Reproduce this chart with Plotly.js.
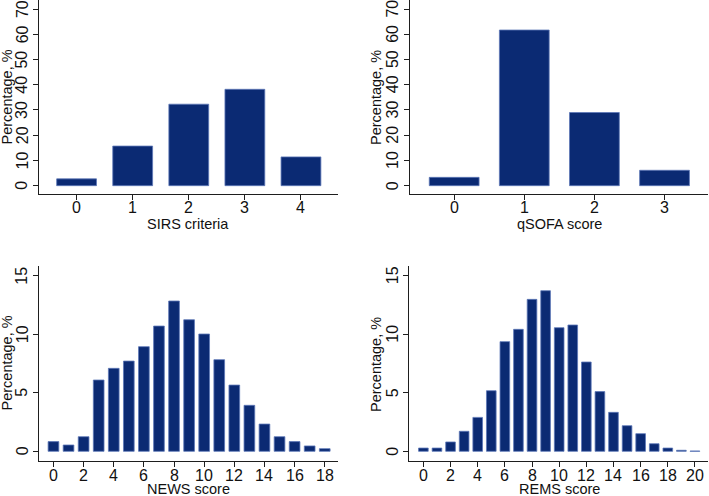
<!DOCTYPE html>
<html>
<head>
<meta charset="utf-8">
<script src="https://cdn.plot.ly/plotly-3.0.1.min.js"></script>
<style>html,body{margin:0;padding:0;background:#fff;}#chart{width:709px;height:496px;}</style>
</head>
<body>
<div id="chart"></div>
<script>
// Data
const sirsCategories = [0, 1, 2, 3, 4];
const sirsPercent = [2.7, 15.7, 32.3, 38.2, 11.4];

const qsofaCategories = [0, 1, 2, 3];
const qsofaPercent = [3.3, 61.7, 29.0, 6.1];

const newsCategories = [0,1,2,3,4,5,6,7,8,9,10,11,12,13,14,15,16,17,18];
const newsPercent = [0.83,0.54,1.25,6.09,7.09,7.71,8.94,10.70,12.84,11.24,10.02,7.83,5.66,3.93,2.33,1.25,0.83,0.46,0.23];

const remsCategories = [0,1,2,3,4,5,6,7,8,9,10,11,12,13,14,15,16,17,18,19,20];
const remsPercent = [0.28,0.28,0.80,1.71,2.90,5.18,9.37,10.42,12.98,13.72,10.56,10.79,7.63,5.10,3.33,2.19,1.51,0.65,0.28,0.09,0.03];

// Tick labels
const sirsTicks = [0, 1, 2, 3, 4];
const qsofaTicks = [0, 1, 2, 3];
const newsTicks = [0, 2, 4, 6, 8, 10, 12, 14, 16, 18];
const remsTicks = [0, 2, 4, 6, 8, 10, 12, 14, 16, 18, 20];
const topYTicks = [0, 10, 20, 30, 40, 50, 60, 70];
const bottomYTicks = [0, 5, 10, 15];

const xTitles = ["SIRS criteria", "qSOFA score", "NEWS score", "REMS score"];
const yTitle = "Percentage, %";

const W = 709, H = 496;
const barFill = "#0b2a73";
const barEdge = "#5d77b8";
const axisCol = "#1e1e1e";
const textCol = "#111";
const font = "Liberation Sans, Arial, sans-serif";

function bar(x, y, xa, ya) {
  return {type: "bar", x: x, y: y, xaxis: xa, yaxis: ya, width: 0.71,
    marker: {color: barFill, line: {color: barEdge, width: 0.8}}, hoverinfo: "skip"};
}

const data = [
  bar(sirsCategories, sirsPercent, "x", "y"),
  bar(qsofaCategories, qsofaPercent, "x2", "y2"),
  bar(newsCategories, newsPercent, "x3", "y3"),
  bar(remsCategories, remsPercent, "x4", "y4")
];

function xa(domainPx, range, ticks, anchor) {
  return {domain: [domainPx[0]/W, domainPx[1]/W], range: range, tickmode: "array", tickvals: ticks,
    anchor: anchor, showline: true, linecolor: axisCol, linewidth: 1, ticks: "outside", ticklen: 5, tickcolor: axisCol,
    showgrid: false, zeroline: false, showticklabels: false, automargin: false, fixedrange: true};
}
function ya(domainPx, range, ticks, anchor) {
  return {domain: [1 - domainPx[1]/H, 1 - domainPx[0]/H], range: range, tickmode: "array", tickvals: ticks,
    anchor: anchor, showline: true, linecolor: axisCol, linewidth: 1, ticks: "outside", ticklen: 5, tickcolor: axisCol,
    showgrid: false, zeroline: false, showticklabels: false, automargin: false, fixedrange: true};
}

const tickFont = {family: font, size: 16, color: textCol};
const titleFont = {family: font, size: 14.5, color: textCol};

const annotations = [];
function xTickLabels(ticks, xref, cy) {
  ticks.forEach(function (v) {
    annotations.push({text: String(v), xref: xref, yref: "paper", x: v, y: 1 - cy/H,
      xanchor: "center", yanchor: "middle", showarrow: false, font: tickFont});
  });
}
function yTickLabels(ticks, yref, cx) {
  ticks.forEach(function (v) {
    annotations.push({text: String(v), xref: "paper", yref: yref, x: cx/W, y: v,
      xanchor: "center", yanchor: "middle", textangle: -90, showarrow: false, font: tickFont});
  });
}
function xTitle(text, cx, cy) {
  annotations.push({text: text, xref: "paper", yref: "paper", x: cx/W, y: 1 - cy/H, xanchor: "center", yanchor: "middle",
    showarrow: false, font: titleFont});
}
function yTitleAnn(cx, cy) {
  annotations.push({text: yTitle, xref: "paper", yref: "paper", x: cx/W, y: 1 - cy/H, xanchor: "center", yanchor: "middle",
    textangle: -90, showarrow: false, font: titleFont});
}

xTickLabels(sirsTicks, "x", 207);
xTickLabels(qsofaTicks, "x2", 207);
xTickLabels(newsTicks, "x3", 475);
xTickLabels(remsTicks, "x4", 475);
yTickLabels(topYTicks, "y", 22);
yTickLabels(topYTicks, "y2", 392.5);
yTickLabels(bottomYTicks, "y3", 22);
yTickLabels(bottomYTicks, "y4", 392.5);
xTitle(xTitles[0], 188.5, 224);
xTitle(xTitles[1], 559, 224);
xTitle(xTitles[2], 188.5, 489);
xTitle(xTitles[3], 559, 489);
yTitleAnn(6.5, 97);
yTitleAnn(376, 97);
yTitleAnn(6.5, 363);
yTitleAnn(376, 364);

const layout = {
  width: W, height: H, margin: {l: 0, r: 0, t: 0, b: 0},
  paper_bgcolor: "#fff", plot_bgcolor: "#fff", showlegend: false, bargap: 0,
  xaxis: xa([39, 338], [-0.67, 4.66], sirsTicks, "y"),
  yaxis: ya([0, 194], [-3.3, 73.6], topYTicks, "x"),
  xaxis2: xa([410, 708], [-0.63, 3.62], qsofaTicks, "y2"),
  yaxis2: ya([0, 194], [-3.3, 73.6], topYTicks, "x2"),
  xaxis3: xa([39, 338], [-0.96, 18.88], newsTicks, "y3"),
  yaxis3: ya([266, 460.7], [-0.8, 15.83], bottomYTicks, "x3"),
  xaxis4: xa([409, 708], [-1.06, 20.96], remsTicks, "y4"),
  yaxis4: ya([266, 460.7], [-0.8, 15.83], bottomYTicks, "x4"),
  annotations: annotations
};

Plotly.newPlot("chart", data, layout, {staticPlot: true, displayModeBar: false});
</script>
</body>
</html>
